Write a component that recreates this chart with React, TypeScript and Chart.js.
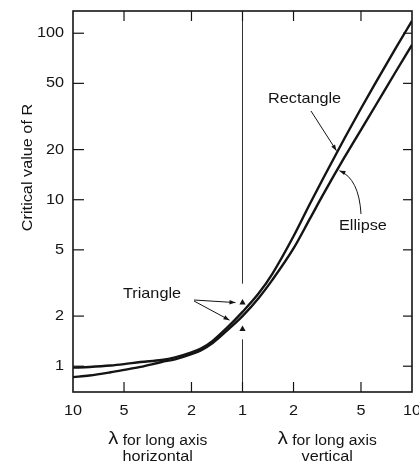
import React, { useEffect, useRef } from "react";
import { Chart, registerables } from "chart.js";

Chart.register(...registerables);

// ---- data ----
// aspect ratio lambda, long axis horizontal (left half), read left to right
const lambdaHorizontal = [10, 8, 6, 5, 4, 3, 2.5, 2, 1.75, 1.5, 1.25];
// aspect ratio lambda, long axis vertical (right half)
const lambdaVertical = [1, 1.25, 1.5, 2, 2.5, 3, 4, 5, 6, 8, 10];

const rectangleHorizontal = [0.98, 0.99, 1.01, 1.03, 1.06, 1.09, 1.13, 1.21, 1.28, 1.42, 1.68];
const rectangleVertical = [2.12, 2.75, 3.59, 6.03, 9.46, 13.5, 23.4, 35.3, 49, 81.2, 118.6];
const ellipseHorizontal = [0.86, 0.88, 0.92, 0.95, 0.99, 1.06, 1.1, 1.18, 1.25, 1.38, 1.62];
const ellipseVertical = [2.0, 2.58, 3.3, 5.1, 7.7, 10.8, 18.0, 26.3, 35.8, 58.5, 85.1];

const triangleLambda = [1, 1];
const triangleValues = [2.41, 1.67];

// vertical reference line at lambda = 1, interrupted around the triangle marks
const refLineLow = [0.745, 1.45];
const refLineHigh = [3.13, 136];

const xTickLambdas = [10, 5, 2, 1, 2, 5, 10];
const xTickSides = [-1, -1, -1, 0, 1, 1, 1];
const yTickValues = [1, 2, 5, 10, 20, 50, 100];
const yMin = 0.745;
const yMax = 136;

const toX = (lambda: number, side: number) => side * Math.log10(lambda);

const buildSeries = (hVals: number[], vVals: number[]) => [
  ...lambdaHorizontal.map((l, i) => ({ x: toX(l, -1), y: hVals[i] })),
  ...lambdaVertical.map((l, i) => ({ x: toX(l, 1), y: vVals[i] })),
];

// log-linear interpolation along a series at a given x
const valueAt = (series: { x: number; y: number }[], xv: number) => {
  for (let i = 0; i < series.length - 1; i++) {
    const a = series[i];
    const b = series[i + 1];
    if (xv >= a.x && xv <= b.x) {
      const t = (xv - a.x) / (b.x - a.x);
      return Math.pow(10, Math.log10(a.y) + t * (Math.log10(b.y) - Math.log10(a.y)));
    }
  }
  return series[series.length - 1].y;
};

const INK = "#141414";
const FONT = '"Liberation Sans", Arial, Helvetica, sans-serif';

function drawText(
  ctx: CanvasRenderingContext2D,
  s: string,
  x: number,
  y: number,
  size: number,
  align: CanvasTextAlign,
  stretch = 1.12
) {
  ctx.save();
  ctx.font = `${size}px ${FONT}`;
  ctx.textAlign = align;
  ctx.textBaseline = "middle";
  ctx.fillStyle = INK;
  ctx.translate(x, y);
  ctx.scale(stretch, 1);
  ctx.fillText(s, 0, 0);
  ctx.restore();
}

function seg(ctx: CanvasRenderingContext2D, x1: number, y1: number, x2: number, y2: number) {
  ctx.beginPath();
  ctx.moveTo(x1, y1);
  ctx.lineTo(x2, y2);
  ctx.stroke();
}

function arrow(
  ctx: CanvasRenderingContext2D,
  x1: number,
  y1: number,
  x2: number,
  y2: number,
  cx?: number,
  cy?: number
) {
  ctx.save();
  ctx.strokeStyle = INK;
  ctx.fillStyle = INK;
  ctx.lineWidth = 1;
  ctx.beginPath();
  ctx.moveTo(x1, y1);
  let dx: number, dy: number;
  if (cx !== undefined && cy !== undefined) {
    ctx.quadraticCurveTo(cx, cy, x2, y2);
    dx = x2 - cx;
    dy = y2 - cy;
  } else {
    ctx.lineTo(x2, y2);
    dx = x2 - x1;
    dy = y2 - y1;
  }
  ctx.stroke();
  const len = Math.hypot(dx, dy) || 1;
  const ux = dx / len;
  const uy = dy / len;
  const hl = 6;
  const hw = 2.2;
  ctx.beginPath();
  ctx.moveTo(x2, y2);
  ctx.lineTo(x2 - ux * hl - uy * hw, y2 - uy * hl + ux * hw);
  ctx.lineTo(x2 - ux * hl + uy * hw, y2 - uy * hl - ux * hw);
  ctx.closePath();
  ctx.fill();
  ctx.restore();
}

function drawAxisTitle(ctx: CanvasRenderingContext2D, cx: number, cy1: number, cy2: number, second: string) {
  const stretch = 1.12;
  ctx.save();
  ctx.font = `18px ${FONT}`;
  const wl = ctx.measureText("λ").width * stretch;
  ctx.font = `14px ${FONT}`;
  const wr = ctx.measureText(" for long axis").width * stretch;
  ctx.restore();
  const start = cx - (wl + wr) / 2;
  drawText(ctx, "λ", start, cy1 - 1, 18, "left", stretch);
  drawText(ctx, " for long axis", start + wl, cy1 + 1, 14, "left", stretch);
  drawText(ctx, second, cx, cy2, 14.5, "center", stretch);
}

export default function App() {
  const canvasRef = useRef<HTMLCanvasElement | null>(null);

  useEffect(() => {
    document.body.style.margin = "0";
    const canvas = canvasRef.current;
    if (!canvas) return;

    const rectangle = buildSeries(rectangleHorizontal, rectangleVertical);
    const ellipse = buildSeries(ellipseHorizontal, ellipseVertical);
    const triangles = triangleLambda.map((l, i) => ({ x: toX(l, 1), y: triangleValues[i] }));

    const overlay = {
      id: "overlay",
      afterDraw(chart: any) {
        const ctx: CanvasRenderingContext2D = chart.ctx;
        const { left, right, top, bottom } = chart.chartArea;
        const xs = chart.scales.x;
        const ys = chart.scales.y;
        ctx.save();
        ctx.strokeStyle = INK;
        ctx.lineWidth = 1.6;
        ctx.strokeRect(left, top, right - left, bottom - top);

        ctx.lineWidth = 1.2;
        yTickValues.forEach((v) => {
          const py = ys.getPixelForValue(v);
          seg(ctx, left, py, left + 11, py);
          seg(ctx, right, py, right - 9, py);
          drawText(ctx, String(v), left - 9, py, 14.5, "right");
        });

        xTickLambdas.forEach((l, i) => {
          const px = xs.getPixelForValue(toX(l, xTickSides[i]));
          if (px > left + 2 && px < right - 2) {
            seg(ctx, px, bottom, px, bottom - 10);
            seg(ctx, px, top, px, top + 10);
          }
          drawText(ctx, String(l), px, bottom + 19, 14.5, "center");
        });

        // axis titles
        const midL = (left + xs.getPixelForValue(0)) / 2;
        const midR = (right + xs.getPixelForValue(0)) / 2;
        drawAxisTitle(ctx, midL, bottom + 48, bottom + 65, "horizontal");
        drawAxisTitle(ctx, midR, bottom + 48, bottom + 65, "vertical");

        ctx.save();
        ctx.translate(28, (top + bottom) / 2 - 34);
        ctx.rotate(-Math.PI / 2);
        drawText(ctx, "Critical value of R", 0, 0, 14.5, "center");
        ctx.restore();

        // annotations
        drawText(ctx, "Rectangle", 268, 99, 14.5, "left");
        const rx = 0.56;
        const rTipX = xs.getPixelForValue(rx) - 1;
        const rTipY = ys.getPixelForValue(valueAt(rectangle, rx)) - 1;
        arrow(ctx, 311, 111, rTipX, rTipY);

        drawText(ctx, "Ellipse", 339, 226, 14.5, "left");
        const ex = 0.56;
        const eTipX = xs.getPixelForValue(ex) + 2;
        const eTipY = ys.getPixelForValue(valueAt(ellipse, ex)) + 1;
        arrow(ctx, 361, 214, eTipX, eTipY, 359, eTipY + 8);

        drawText(ctx, "Triangle", 123, 294, 14.5, "left");
        const t1x = xs.getPixelForValue(triangles[0].x);
        const t1y = ys.getPixelForValue(triangles[0].y);
        const t2y = ys.getPixelForValue(triangles[1].y);
        arrow(ctx, 194, 300, t1x - 7, t1y);
        arrow(ctx, 194, 301, t1x - 13, t2y - 9);
        ctx.restore();
      },
    };

    const chart = new Chart(canvas, {
      type: "line",
      data: {
        datasets: [
          {
            label: "Rectangle",
            data: rectangle,
            borderColor: INK,
            borderWidth: 2.4,
            pointRadius: 0,
            cubicInterpolationMode: "monotone",
            fill: false,
          },
          {
            label: "Ellipse",
            data: ellipse,
            borderColor: INK,
            borderWidth: 2.4,
            pointRadius: 0,
            cubicInterpolationMode: "monotone",
            fill: false,
          },
          {
            label: "Triangle",
            data: triangles,
            showLine: false,
            pointStyle: "triangle",
            pointRadius: 3.6,
            pointBackgroundColor: INK,
            pointBorderColor: INK,
            pointBorderWidth: 0,
          },
          {
            label: "ref-low",
            data: refLineLow.map((v) => ({ x: 0, y: v })),
            borderColor: "#333",
            borderWidth: 1,
            pointRadius: 0,
          },
          {
            label: "ref-high",
            data: refLineHigh.map((v) => ({ x: 0, y: v })),
            borderColor: "#333",
            borderWidth: 1,
            pointRadius: 0,
          },
        ],
      } as any,
      options: {
        animation: false,
        responsive: false,
        maintainAspectRatio: false,
        devicePixelRatio: 1,
        events: [],
        layout: { padding: { left: 73, right: 7, top: 11, bottom: 78 } },
        plugins: { legend: { display: false }, tooltip: { enabled: false } },
        scales: {
          x: { type: "linear", min: -1, max: 1, display: false },
          y: { type: "logarithmic", min: yMin, max: yMax, display: false },
        },
      },
      plugins: [overlay],
    });

    return () => chart.destroy();
  }, []);

  return (
    <div style={{ width: 419, height: 470, background: "#fff" }}>
      <canvas ref={canvasRef} width={419} height={470} />
    </div>
  );
}
